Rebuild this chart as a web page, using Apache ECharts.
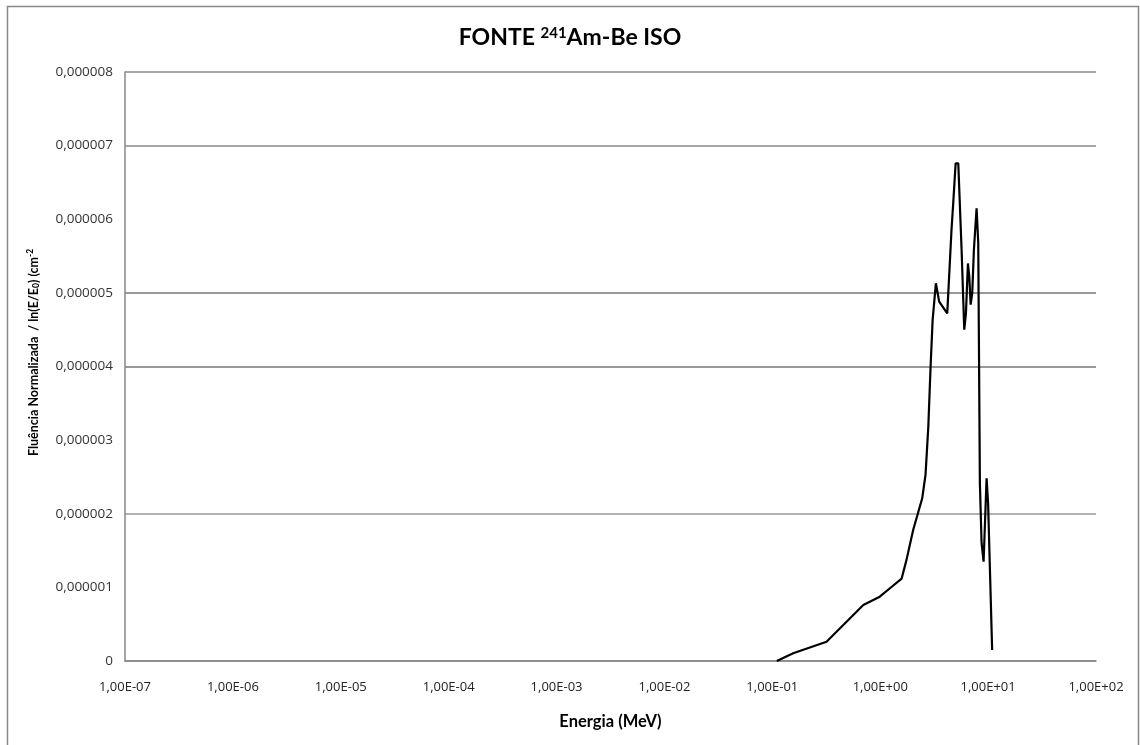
<!DOCTYPE html>
<html>
<head>
<meta charset="utf-8">
<script src="https://cdn.jsdelivr.net/npm/echarts@6/dist/echarts.min.js"></script>
<style>
  html, body { margin: 0; padding: 0; background: #fff; }
  #chart { width: 1140px; height: 745px; }
</style>
</head>
<body>
<div id="chart"></div>
<script>
  // energia (MeV)
  const energia = [
    0.11, 0.156, 0.318, 0.697, 0.99, 1.23, 1.58, 1.75, 2.02, 2.45, 2.63, 2.79,
    2.93, 3.06, 3.28, 3.52, 4.18, 4.58, 4.75, 5.0, 5.29, 5.68, 6.01, 6.23, 6.5,
    6.69, 6.89, 7.13, 7.38, 7.82, 8.1, 8.39, 8.7, 9.08, 9.4, 9.68, 10.0, 10.9
  ]
  // fluencia normalizada / ln(E/E0), em unidades de 1e-6 cm-2
  const fluencia = [
    0, 0.105, 0.262, 0.76, 0.874, 0.988, 1.12, 1.37, 1.78, 2.21, 2.53, 3.18,
    4.0, 4.63, 5.13, 4.88, 4.72, 5.86, 6.22, 6.76, 6.76, 5.58, 4.5, 4.72, 5.4,
    5.22, 4.84, 5.0, 5.58, 6.15, 5.68, 2.41, 1.6, 1.35, 1.96, 2.48, 2.14, 0.15
  ]
  const xTicks = ['1,00E-07', '1,00E-06', '1,00E-05', '1,00E-04', '1,00E-03',
    '1,00E-02', '1,00E-01', '1,00E+00', '1,00E+01', '1,00E+02']
  const yTicks = ['0', '0,000001', '0,000002', '0,000003', '0,000004',
    '0,000005', '0,000006', '0,000007', '0,000008']

  let data = energia.map(function (e, i) {
    return [e, fluencia[i] * 1e-6]
  })

  let chart = echarts.init(document.getElementById('chart'))
  let option = {
    animation: false,
    textStyle: { fontFamily: 'Lato, "Open Sans", sans-serif' },
    title: {
      left: 'center',
      top: 21,
      text: '{b|FONTE }{sup|241}{b|Am-Be ISO}',
      textStyle: {
        rich: {
          b: { fontSize: 23, fontWeight: 'bold', color: '#000', fontFamily: 'Lato' },
          sup: { fontSize: 15, fontWeight: 'bold', color: '#000', fontFamily: 'Lato', verticalAlign: 'top', padding: [0, 0, 9, 0] }
        }
      }
    },
    graphic: [{
      type: 'rect',
      shape: { x: 7.5, y: 6.5, width: 1131, height: 745 },
      style: { fill: 'none', stroke: '#888', lineWidth: 1.5 },
      silent: true
    }],
    grid: {
      left: 125,
      right: 44,
      top: 72,
      bottom: 84
    },
    xAxis: {
      type: 'log',
      logBase: 10,
      min: 1e-7,
      max: 100,
      name: 'Energia (MeV)',
      nameLocation: 'middle',
      nameGap: 52,
      nameTextStyle: { fontSize: 16.5, fontWeight: 'bold', color: '#000' },
      axisLine: { lineStyle: { color: '#888', width: 1.5 } },
      axisTick: { show: false },
      splitLine: { show: false },
      axisLabel: {
        color: '#222',
        fontSize: 13,
        margin: 20,
        fontFamily: '"Open Sans", sans-serif',
        formatter: function (v) {
          let k = Math.round(Math.log10(v)) + 7
          return xTicks[k] || ''
        }
      }
    },
    yAxis: {
      type: 'value',
      min: 0,
      max: 8e-6,
      interval: 1e-6,
      name: '{t|Fluência Normalizada  / ln(E/E}{sub|0}{t|) (cm}{sup|-2}',
      nameLocation: 'middle',
      nameGap: 84,
      nameTextStyle: {
        padding: [0, 0, 0, 28],
        rich: {
          t: { fontSize: 12.5, fontWeight: 'bold', color: '#000' },
          sub: { fontSize: 8.5, fontWeight: 'bold', color: '#000', verticalAlign: 'bottom', padding: [6, 0, 0, 0] },
          sup: { fontSize: 8.5, fontWeight: 'bold', color: '#000', verticalAlign: 'top', padding: [0, 0, 6, 0] }
        }
      },
      axisLine: { show: true, lineStyle: { color: '#888', width: 1.5 } },
      axisTick: { show: false },
      axisLabel: {
        color: '#333',
        fontSize: 13.5,
        margin: 12,
        fontFamily: '"Open Sans", sans-serif',
        formatter: function (v) {
          return yTicks[Math.round(v * 1e6)]
        }
      },
      splitLine: {
        show: true,
        lineStyle: {
          width: 1.5,
          color: ['#888', 'rgba(0,0,0,0)', '#999', 'rgba(0,0,0,0)', '#777', '#777', 'rgba(0,0,0,0)', '#888', '#888']
        }
      }
    },
    series: [{
      type: 'line',
      data: data,
      showSymbol: false,
      smooth: false,
      lineStyle: { color: '#000', width: 2.2 }
    }]
  }
  chart.setOption(option)
</script>
</body>
</html>
